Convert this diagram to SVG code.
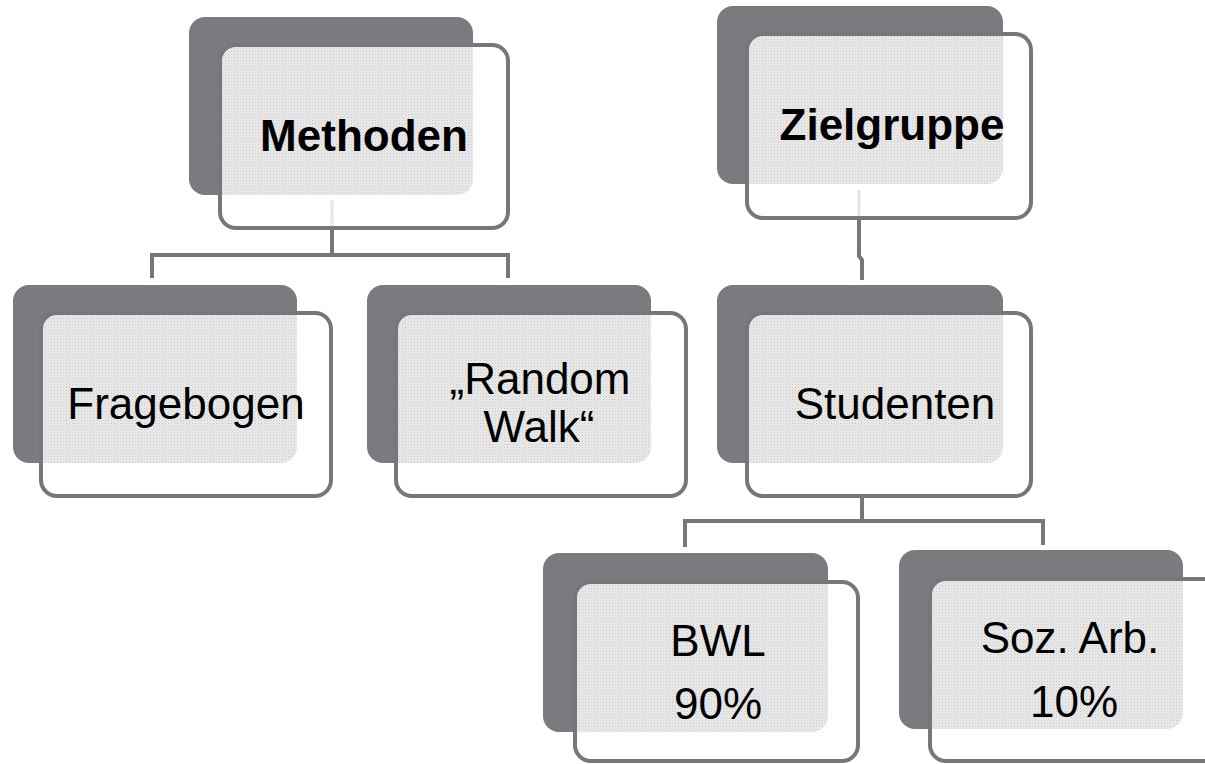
<svg xmlns="http://www.w3.org/2000/svg" width="1205" height="764" viewBox="0 0 1205 764">
<style>
.back{fill:#7a7b7e}
.front{fill:#ffffff}
.edge{fill:none;stroke:#76777a;stroke-width:4}
.pat{fill:url(#dots)}
.conn{fill:none;stroke:#76777a;stroke-width:4}
.faint{fill:none;stroke:url(#dots);stroke-width:3}
.t{font-family:"Liberation Sans",Arial,sans-serif;font-size:44px;fill:#000;text-anchor:middle}
.b{font-weight:bold}
</style>
<defs>
<pattern id="dots" width="3" height="3" patternUnits="userSpaceOnUse">
<rect width="3" height="3" fill="#ebebeb"/>
<rect width="1" height="1" fill="#c4c4c4"/>
<rect x="1.5" y="1.5" width="1" height="1" fill="#d0d0d0"/>
</pattern>
<clipPath id="c1"><rect x="222" y="47" width="284" height="179" rx="14"/></clipPath>
<clipPath id="c2"><rect x="749" y="36" width="280" height="180" rx="14"/></clipPath>
<clipPath id="c3"><rect x="43" y="315" width="286" height="179" rx="14"/></clipPath>
<clipPath id="c4"><rect x="398" y="315" width="286" height="179" rx="14"/></clipPath>
<clipPath id="c5"><rect x="749" y="315" width="280" height="179" rx="14"/></clipPath>
<clipPath id="c6"><rect x="577" y="584" width="279" height="175" rx="14"/></clipPath>
<clipPath id="c7"><rect x="932" y="581" width="286" height="178" rx="14"/></clipPath>
</defs>
<rect width="1205" height="764" fill="#ffffff"/>
<g id="connectors">
<path class="conn" d="M332 230 V255 M152 278 V255 H508 V278"/>
<path class="conn" d="M859 220 V256 L862 260 V280"/>
<path class="conn" d="M862 498 V521 M685 547 V521 H1043 V545"/>
</g>
<g id="methoden">
<rect class="back" x="189" y="17" width="284" height="178" rx="16"/>
<rect class="front" x="220" y="45" width="288" height="183" rx="16"/>
<rect class="pat" x="189" y="17" width="284" height="178" rx="16" clip-path="url(#c1)"/>
<line class="faint" x1="332" y1="200" x2="332" y2="226"/>
<rect class="edge" x="220" y="45" width="288" height="183" rx="16"/>
<text class="t b" x="364" y="151">Methoden</text>
</g>
<g id="zielgruppe">
<rect class="back" x="717" y="6" width="286" height="178" rx="16"/>
<rect class="front" x="747" y="34" width="284" height="184" rx="16"/>
<rect class="pat" x="717" y="6" width="286" height="178" rx="16" clip-path="url(#c2)"/>
<line class="faint" x1="859" y1="190" x2="859" y2="216"/>
<rect class="edge" x="747" y="34" width="284" height="184" rx="16"/>
<text class="t b" x="892" y="140">Zielgruppe</text>
</g>
<g id="fragebogen">
<rect class="back" x="13" y="285" width="284" height="178" rx="16"/>
<rect class="front" x="41" y="313" width="290" height="183" rx="16"/>
<rect class="pat" x="13" y="285" width="284" height="178" rx="16" clip-path="url(#c3)"/>
<rect class="edge" x="41" y="313" width="290" height="183" rx="16"/>
<text class="t" x="186" y="419">Fragebogen</text>
</g>
<g id="randomwalk">
<rect class="back" x="367" y="285" width="284" height="178" rx="16"/>
<rect class="front" x="396" y="313" width="290" height="183" rx="16"/>
<rect class="pat" x="367" y="285" width="284" height="178" rx="16" clip-path="url(#c4)"/>
<rect class="edge" x="396" y="313" width="290" height="183" rx="16"/>
<text class="t" x="540" y="394">„Random</text>
<text class="t" x="539" y="442">Walk“</text>
</g>
<g id="studenten">
<rect class="back" x="717" y="285" width="286" height="178" rx="16"/>
<rect class="front" x="747" y="313" width="284" height="183" rx="16"/>
<rect class="pat" x="717" y="285" width="286" height="178" rx="16" clip-path="url(#c5)"/>
<rect class="edge" x="747" y="313" width="284" height="183" rx="16"/>
<text class="t" x="895" y="419">Studenten</text>
</g>
<g id="bwl">
<rect class="back" x="543" y="553" width="285" height="179" rx="16"/>
<rect class="front" x="575" y="582" width="283" height="179" rx="16"/>
<rect class="pat" x="543" y="553" width="285" height="179" rx="16" clip-path="url(#c6)"/>
<rect class="edge" x="575" y="582" width="283" height="179" rx="16"/>
<text class="t" x="718" y="656">BWL</text>
<text class="t" x="718" y="719">90%</text>
</g>
<g id="sozarb">
<rect class="back" x="899" y="550" width="284" height="179" rx="16"/>
<rect class="front" x="930" y="579" width="290" height="182" rx="16"/>
<rect class="pat" x="899" y="550" width="284" height="179" rx="16" clip-path="url(#c7)"/>
<rect class="edge" x="930" y="579" width="290" height="182" rx="16"/>
<text class="t" x="1070" y="653">Soz. Arb.</text>
<text class="t" x="1074" y="717">10%</text>
</g>
</svg>
